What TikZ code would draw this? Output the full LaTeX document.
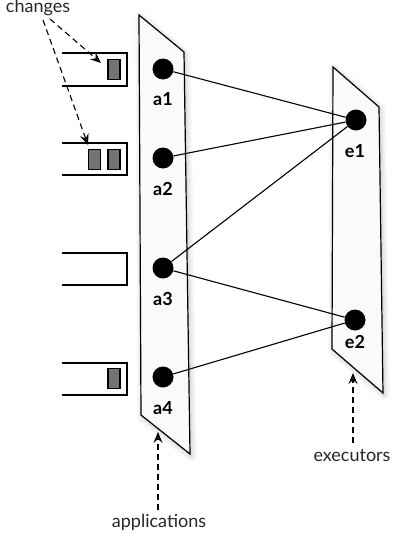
\documentclass[tikz,border=0pt]{standalone}
\usepackage{fontspec}
\setmainfont{Lato}
\usetikzlibrary{arrows.meta,shadows.blur}
\tikzset{
  panel/.style={draw=black, line width=1.2pt, fill=black!2,
    blur shadow={shadow xshift=1.5pt, shadow yshift=-2pt, shadow blur radius=6pt, shadow blur steps=10, shadow opacity=25}},
  dot/.style={circle, fill=black, minimum size=21pt, inner sep=0pt},
  lbl/.style={font=\fontsize{18}{20}\selectfont\bfseries},
  captext/.style={font=\fontsize{18}{20}\selectfont, text=black!85},
  link/.style={line width=1.1pt},
  frame/.style={line width=1.2pt},
  chg/.style={draw=black, line width=1.1pt, fill=black!55},
  hint/.style={dash pattern=on 6pt off 4pt, line width=1.1pt, -{Stealth[length=11pt,width=9pt,inset=4pt]}}
}
\begin{document}
\begin{tikzpicture}[x=1pt, y=-1pt]
\useasboundingbox (0,0) rectangle (393,541);

% the two panels
\draw[panel] (139,15) -- (184,52) -- (190,454) -- (141,415) -- cycle;
\draw[panel] (333,67) -- (379,107) -- (383,393) -- (332,349) -- cycle;

% applications
\node[dot] (a1) at (163,69) {};
\node[dot] (a2) at (163,158) {};
\node[dot] (a3) at (163,268) {};
\node[dot] (a4) at (163,377) {};
\node[lbl] (la1) at (163,99) {a1};
\node[lbl] (la2) at (163,189) {a2};
\node[lbl] (la3) at (163,299) {a3};
\node[lbl] (la4) at (163,408) {a4};

% executors
\node[dot] (e1) at (356,120) {};
\node[dot] (e2) at (355,320) {};
\node[lbl] (le1) at (355,151) {e1};
\node[lbl] (le2) at (355,342) {e2};

% assignments
\draw[link] (a1) -- (e1);
\draw[link] (a2) -- (e1);
\draw[link] (a3) -- (e1);
\draw[link] (a3) -- (e2);
\draw[link] (a4) -- (e2);

% application state boxes, open on the left
\draw[frame] (62,53) -- (127,53) -- (127,86) -- (62,86);
\draw[frame] (62,143) -- (127,143) -- (127,175) -- (62,175);
\draw[frame] (62,253) -- (127,253) -- (127,285) -- (62,285);
\draw[frame] (62,363) -- (127,363) -- (127,395) -- (62,395);
\node[chg, minimum width=12pt, minimum height=20pt, inner sep=0pt] (c1) at (114,69.5) {};
\node[chg, minimum width=12pt, minimum height=20pt, inner sep=0pt] (c2) at (94.5,159.5) {};
\node[chg, minimum width=12pt, minimum height=20pt, inner sep=0pt] (c3) at (114,159.5) {};
\node[chg, minimum width=12pt, minimum height=20pt, inner sep=0pt] (c4) at (114,378.5) {};

% captions
\node[captext] (changes) at (38,8) {changes};
\node[captext] (apps) at (159,522) {applications};
\node[captext] (execs) at (352,456) {executors};

\coordinate (t1) at (101,63);
\coordinate (t2) at (88,145);
\draw[hint] (50,19) -- (t1);
\draw[hint] (43,20) -- (t2);
\draw[hint] (158,510) -- (158,432);
\draw[hint] (353,443) -- (353,373);
\end{tikzpicture}
\end{document}
